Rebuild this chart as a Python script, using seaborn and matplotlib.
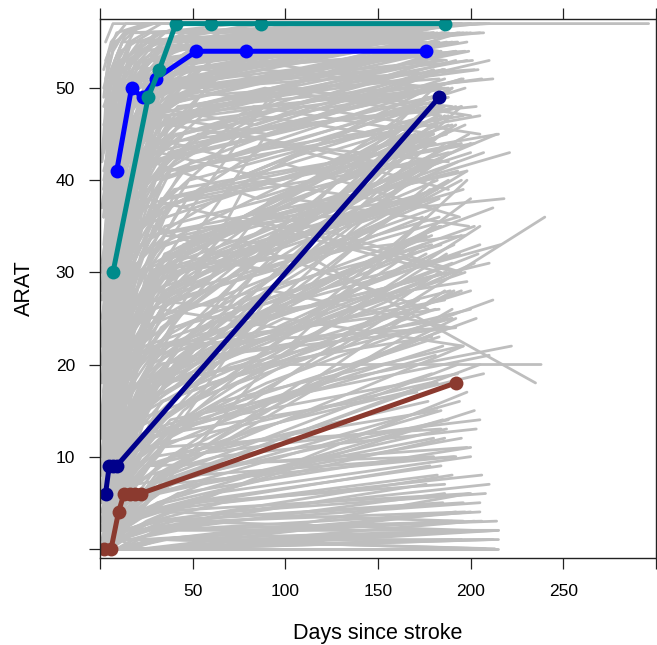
import matplotlib
matplotlib.use("Agg")
import matplotlib.pyplot as plt
import seaborn as sns
import pandas as pd

# ---- background (grey) patient trajectories: days since stroke / ARAT ----
grey_days = [
    [2,6,12,25,55,180],[3,8,15,29,88,183],[1,5,10,22,60,176],[4,9,14,31,92,190],
    [2,7,13,27,85,178],[3,6,11,24,53,172],[5,10,18,35,95,195],[2,4,9,20,50,181],
    [3,8,16,33,80,187],[1,7,12,26,58,174],[4,11,19,38,100,198],[2,5,10,21,47,168],
    [3,9,15,28,63,184],[6,12,20,36,90,200],[2,6,14,30,70,179],[1,4,8,18,45,170],
    [3,10,17,32,82,186],[5,9,16,30,75,192],[2,7,13,25,57,175],[4,8,15,27,65,181],
    [3,6,12,23,52,177],[1,5,11,24,61,185],[2,9,18,34,96,194],[4,10,20,40,105,205],
    [3,7,14,28,72,183],[2,5,9,19,48,171],[6,13,22,42,110,210],[1,6,12,27,64,182],
    [3,8,14,29,70,296],[2,4,10,22,55,180],[5,11,18,33,85,188],[4,9,17,31,77,185],
    [2,6,13,28,180],[3,8,15,32,186],[1,5,10,24,175],[4,10,18,36,190],
    [2,7,14,29,182],[3,9,16,30,195],[5,12,20,38,200],[2,5,11,25,172],
    [3,7,13,27,184],[1,6,12,26,178],[4,8,16,33,192],[2,9,17,35,188],
    [3,6,12,25,176],[5,10,19,37,205],[2,7,15,30,181],[1,4,9,21,170],
    [3,11,20,40,212],[4,8,14,28,186],[2,6,13,27,179],[3,9,17,34,193],
    [1,5,11,23,174],[6,12,21,39,207],[2,8,16,32,185],[3,7,14,29,182],
    [4,10,18,35,197],[2,5,10,22,177],[3,8,15,31,190],[5,11,19,36,202],
    [1,6,13,27,180],[4,9,17,33,188],[2,7,14,28,183],[3,10,19,37,199],
    [2,6,12,26,176],[4,8,15,30,187],[3,11,21,40,215],[1,5,10,23,173],
    [2,6,13,28,185],[3,9,17,34,195],[1,5,11,24,178],[4,10,18,36,200],
    [2,7,14,29,182],[3,8,15,31,190],[5,12,20,38,210],[2,5,10,22,175],
    [3,7,13,26,180],[1,6,12,27,186],[4,9,17,33,193],[2,8,16,32,188],
    [3,10,19,100,238],[2,6,14,110,235],[4,11,20,130,240],[3,9,18,120,222],
    [1,5,11,25,177],[5,10,18,35,197],[2,7,15,30,184],[3,6,12,25,179],
    [4,8,16,34,192],[2,9,17,33,189],[1,4,9,20,171],[3,8,14,29,183],
    [2,10,20,40,205],
    [2,6,13,28,190],[3,9,17,34,205],[1,5,11,24,212],[4,10,18,36,215],
    [2,7,14,29,198],[3,8,15,31,185],[5,12,20,38,208],[2,5,10,22,195],
    [3,7,13,26,200],[1,6,12,27,188],[4,9,17,33,213],[2,8,16,32,196],
    [3,10,19,37,210],[2,6,12,26,182],[4,8,15,30,215],[3,11,21,40,201],
    [1,5,10,23,192],[2,7,13,27,207],[3,9,18,35,186],[5,11,19,36,214],
    # more early-recoverers
    [3,10,24,178],[2,8,20,182],[4,12,30,186],[1,6,16,174],[5,14,35,190],
    [2,9,22,180],[3,11,28,184],[6,15,38,195],[2,7,18,176],[4,13,32,188],
    [1,5,14,172],[3,9,25,181],[5,16,40,198],[2,8,21,179],[4,10,27,185],
    [3,12,33,189],[1,7,19,177],[6,14,36,193],[2,6,17,175],[4,11,29,183],
    [3,8,23,180],[5,13,34,191],[2,10,26,182],[1,4,12,170],[3,9,24,186],
    [4,15,37,196],[2,7,20,178],[5,12,31,187],[3,11,27,184],[1,6,15,173],
    [6,16,41,200],[2,9,23,181],[4,13,30,189],[3,8,21,179],[2,5,13,171],
    [5,14,33,192],[1,8,22,180],[4,10,26,185],[3,12,35,190],[2,7,19,176],
    # long diagonals
    [3,12,35,184],[2,9,28,180],[5,15,40,195],[1,7,22,176],[4,14,38,190],
    [2,10,30,182],[6,18,45,200],[3,11,33,186],[1,6,20,174],[4,13,36,192],
    [2,8,26,179],[5,16,42,198],[3,10,31,183],[1,7,24,177],[4,12,34,189],
    [2,9,29,181],[6,17,44,205],[3,11,32,185],[2,8,25,178],[5,14,39,194],
    [1,6,21,175],[4,13,37,191],[3,10,30,184],[2,9,27,180],[5,15,41,197],
    [1,7,23,176],[4,12,35,188],[3,11,33,186],[2,8,28,182],[6,16,43,202],
    [3,9,29,183],[1,5,18,172],[4,14,38,193],[2,10,31,185],[5,13,36,190],
    # low recoverers
    [3,12,35,186],[2,9,28,182],[5,15,40,196],[1,7,22,178],[4,14,38,192],
    [2,10,30,184],[6,18,45,205],[3,11,33,188],[1,6,20,176],[4,13,36,194],
    [2,8,26,181],[5,16,42,200],[3,10,31,185],[1,7,24,179],[4,12,34,190],
    [2,9,29,183],[3,11,32,187],[5,14,39,198],[2,8,25,180],[4,13,37,193],
    # near floor
    [3,12,35,195],[2,9,28,205],[5,15,40,212],[1,7,22,188],[4,14,38,210],
    [2,10,30,200],[6,18,45,215],[3,11,33,196],[1,6,20,190],[4,13,36,208],
    [2,8,26,202],[5,16,42,214],[3,10,31,193],[1,7,24,206],[4,12,34,199],
    # late ends
    [3,15,60,214],[2,12,50,221],[5,20,70,218],[4,18,90,216],
    # with a 3-month visit
    [4,14,30,90,185],[3,12,28,85,180],[2,10,25,95,190],[5,16,35,100,195],
    [3,11,27,88,182],[2,9,22,80,178],[4,13,33,92,188],[6,18,40,105,200],
    [3,10,26,86,181],[2,8,21,78,176],[4,15,36,98,192],[5,14,32,90,187],
    [3,12,29,87,183],[1,7,20,75,174],[4,13,31,93,189],[2,11,27,84,180],
    [6,17,39,102,198],[3,10,25,88,184],[2,9,23,81,179],[5,15,34,96,194],
    [4,12,30,91,186],[3,11,26,85,181],[2,8,20,79,177],[5,16,37,101,197],
    [3,13,31,92,188],[1,6,18,73,172],[4,14,33,95,191],[2,10,24,83,180],
    [6,18,41,108,203],[3,11,28,89,184],[2,9,22,80,178],[4,15,35,97,193],
    [5,13,30,91,187],[3,12,27,86,182],[1,7,19,76,175],[4,14,32,94,190],
    [2,10,25,84,180],[6,17,38,103,199],[3,11,26,87,183],[2,8,21,79,177],
    [5,15,36,99,196],[4,12,29,90,186],[3,13,30,92,188],[1,6,17,72,171],
    [4,14,34,96,192],[2,10,24,82,179],[6,18,42,110,205],[3,11,27,88,184],
    [2,9,23,81,178],[5,16,35,98,195],
    # dense early follow-up
    [1,7,16,35,182],[2,8,18,38,186],[3,10,20,40,190],[1,6,15,32,178],
    [2,9,19,36,184],[4,11,22,42,195],[1,7,17,34,180],[3,12,24,44,198],
    [2,8,16,33,181],[1,6,14,30,176],[3,10,21,39,188],[2,9,18,37,185],
    [4,12,23,43,196],[1,7,15,31,179],[2,8,17,35,183],[3,11,22,41,192],
    [1,6,16,33,177],[2,10,20,38,187],[4,12,25,45,200],[3,9,19,36,184],
    # upper band, later end
    [2,9,20,45,192],[3,11,24,50,198],[1,8,18,42,186],[4,13,27,55,205],
    [2,10,22,48,195],[3,12,26,52,200],[1,7,17,40,183],[5,14,30,60,210],
    [2,9,21,46,190],[3,10,23,49,196],[4,12,25,51,202],[1,8,19,43,187],
    [2,11,24,50,199],[3,13,28,56,207],[5,15,31,58,212],[2,8,18,41,184],
    [4,11,23,47,193],[1,9,20,44,188],[3,12,25,52,201],[2,10,22,47,194],
    [4,14,29,57,208],[1,7,16,39,181],[3,11,24,49,197],[5,13,27,54,204],
    [2,9,21,45,191],[3,10,22,47,195],[1,8,18,42,185],[4,12,26,53,203],
    [2,11,23,48,196],[3,13,28,55,206],
    # low band, later end
    [3,10,25,60,200],[2,8,20,55,195],[4,12,30,70,210],[1,7,18,50,188],
    [3,11,27,65,205],[2,9,22,58,198],[5,14,33,75,214],[1,6,16,45,184],
    [4,13,29,68,208],[2,10,24,62,202],[3,8,19,52,191],[5,15,35,80,215],
    [1,9,21,57,197],[4,12,28,66,206],[2,7,17,48,186],[3,11,26,63,203],
    # middle band
    [2,10,25,70,200],[3,12,30,80,205],[1,8,20,60,190],[4,14,35,85,210],
    [2,9,22,65,195],[3,11,28,75,202],[5,16,38,90,212],[1,7,18,55,186],
    [4,13,32,82,207],[2,10,24,68,198],[3,12,29,78,204],[1,8,21,62,192],
]
grey_arat = [
    [15,30,42,51,55,57],[40,48,53,55,57,57],[5,18,33,46,53,56],[25,38,47,52,56,57],
    [50,54,56,57,57,57],[10,22,36,48,54,57],[33,44,50,54,57,57],[0,9,27,43,52,55],
    [45,51,55,57,57,57],[22,35,44,50,55,57],[12,28,40,49,54,56],[36,46,52,55,57,57],
    [3,14,30,44,51,54],[28,40,47,52,55,57],[52,55,57,57,57,57],[8,20,34,45,53,56],
    [18,31,42,49,54,56],[42,49,53,56,57,57],[2,12,28,41,50,55],[30,42,49,53,56,57],
    [47,52,55,57,57,57],[13,26,39,48,53,57],[38,47,52,55,56,57],[20,33,43,50,55,57],
    [55,57,57,57,57,57],[26,37,45,51,55,56],[31,41,48,53,56,57],[6,19,35,47,52,54],
    [48,53,56,57,57,57],[17,29,41,49,54,56],[37,46,51,54,56,57],[10,25,38,47,53,56],
    [5,12,22,30,45],[10,18,26,33,48],[0,6,15,24,42],[15,22,30,37,50],
    [3,9,18,27,40],[20,28,35,40,51],[8,14,21,28,44],[12,20,28,34,38],
    [1,5,12,20,35],[25,31,37,42,49],[6,13,20,26,46],[18,24,30,35,43],
    [0,2,8,16,32],[22,30,36,41,47],[9,16,23,29,39],[14,21,29,35,45],
    [4,10,17,24,37],[27,34,39,43,50],[7,11,18,25,33],[16,23,29,33,41],
    [2,8,16,24,36],[11,19,26,31,43],[30,36,40,44,48],[5,14,24,31,47],
    [13,18,24,30,34],[20,27,33,37,42],[0,4,11,19,31],[24,29,34,38,44],
    [8,15,22,28,38],[35,40,44,47,50],[12,17,22,27,36],[3,10,19,27,45],
    [17,24,30,34,40],[1,7,14,22,30],[26,31,35,39,45],[10,17,25,32,43],
    [2,4,8,12,22],[5,8,12,16,28],[0,3,7,11,18],[8,11,14,18,26],
    [1,3,6,10,15],[10,14,17,20,25],[3,6,10,14,21],[6,9,13,17,29],
    [0,1,3,6,12],[12,15,18,21,27],[2,5,9,13,19],[15,18,20,22,24],
    [4,7,11,20,20],[20,26,30,32,18],[6,10,14,22,36],[5,9,12,18,22],
    [1,2,5,9,16],[9,12,15,19,30],[3,5,8,11,13],[7,10,14,18,23],
    [0,2,4,7,10],[11,14,17,20,28],[4,6,9,12,17],[14,16,19,22,26],
    [1,4,7,10,14],
    [0,0,0,1,3],[0,1,1,2,4],[0,0,0,0,0],[0,0,1,1,1],
    [0,0,0,0,2],[1,1,2,3,5],[0,0,0,0,0],[0,0,1,0,1],
    [2,3,3,4,6],[0,0,0,0,0],[0,0,0,1,0],[3,3,4,4,3],
    [0,0,0,0,1],[0,1,2,4,8],[0,0,0,0,0],[1,2,2,3,2],
    [0,0,0,0,4],[0,0,0,0,0],[0,0,1,2,6],[0,0,0,0,0],
    # more early-recoverers
    [30,45,53,57],[20,38,50,56],[35,48,54,57],[12,30,45,55],[40,50,55,57],
    [25,42,52,57],[8,25,44,54],[38,47,53,57],[44,52,56,57],[16,34,48,56],
    [28,41,50,55],[53,56,57,57],[22,36,47,53],[33,46,54,57],[5,21,42,52],
    [46,53,56,57],[18,36,49,56],[27,40,50,56],[39,49,55,57],[11,29,46,55],
    [51,55,57,57],[24,39,50,57],[14,32,47,54],[42,51,55,57],[31,44,52,56],
    [9,26,43,51],[36,48,54,57],[19,35,48,55],[48,54,56,57],[23,39,50,56],
    [34,45,52,56],[7,24,43,53],[43,51,55,57],[26,41,51,57],[49,54,56,57],
    [15,31,46,54],[37,47,53,56],[21,38,50,57],[45,52,56,57],[10,28,45,55],
    # long diagonals
    [4,10,18,45],[2,6,14,40],[8,13,20,48],[0,4,10,36],[12,18,25,50],
    [6,12,19,42],[3,8,15,38],[10,16,24,47],[1,5,12,33],[15,21,28,44],
    [5,11,17,46],[9,14,22,41],[0,3,9,30],[14,19,27,49],[7,13,21,43],
    [11,17,26,37],[2,7,14,35],[18,24,31,48],[4,9,16,39],[13,18,24,32],
    [8,14,22,45],[0,5,12,28],[16,22,29,42],[3,10,20,50],[20,26,32,46],
    [6,11,18,34],[10,15,23,40],[1,6,15,44],[17,23,30,39],[5,10,17,31],
    [12,20,30,47],[2,7,13,27],[14,20,27,36],[7,12,20,49],[0,2,8,26],
    # low recoverers
    [0,2,5,12],[1,3,7,18],[2,5,9,22],[0,1,4,9],[3,6,10,25],
    [0,2,6,15],[1,4,8,20],[4,7,11,24],[0,0,2,7],[2,4,7,16],
    [5,8,12,21],[0,3,6,11],[1,2,5,14],[3,5,9,19],[0,1,3,8],
    [6,9,13,23],[2,3,6,13],[0,2,4,17],[1,4,9,10],[3,5,8,20],
    # near floor
    [0,0,0,0],[0,0,1,2],[0,0,0,1],[1,1,1,3],[0,0,0,0],
    [0,1,1,4],[0,0,0,2],[2,2,3,5],[0,0,0,1],[0,0,1,0],
    [0,0,0,3],[1,1,2,2],[0,0,0,0],[0,1,2,3],[0,0,0,6],
    # late ends
    [10,20,32,45],[12,22,33,43],[15,26,35,38],[5,15,26,33],
    # with a 3-month visit
    [10,20,28,45,52],[35,40,42,38,44],[5,15,30,50,48],[20,25,32,30,40],
    [40,46,50,52,50],[0,5,18,40,50],[15,30,40,44,42],[25,35,42,50,47],
    [2,8,12,25,35],[30,38,45,42,48],[8,12,20,35,30],[45,50,52,55,53],
    [12,25,35,30,38],[20,30,35,45,41],[3,6,10,28,24],[38,44,48,46,52],
    [5,10,15,22,40],[28,34,38,35,30],[48,52,55,54,57],[18,28,37,42,36],
    [1,3,8,15,28],[22,32,40,47,44],[10,18,25,33,26],[33,40,46,44,50],
    [6,14,22,38,46],[42,48,51,49,54],[14,20,26,24,33],[26,35,41,48,45],
    [2,5,9,18,25],[36,42,47,50,47],[16,26,33,40,37],[24,30,34,33,42],
    [0,2,6,20,32],[44,49,53,51,55],[8,16,24,36,31],[30,37,43,40,46],
    [4,9,15,30,42],[19,26,31,38,35],[50,53,55,57,54],[13,22,30,35,45],
    [9,14,19,25,22],[37,43,47,45,51],[21,29,36,44,39],[3,10,20,32,38],
    [27,33,37,42,48],[11,19,27,26,34],[32,38,43,48,45],[7,11,17,27,33],
    [41,47,51,53,50],[15,22,28,36,30],
    # dense early follow-up
    [0,8,20,32,46],[10,22,33,41,52],[25,36,44,49,55],[5,15,24,30,38],
    [18,30,40,46,50],[2,6,14,22,34],[30,42,49,53,56],[12,20,28,34,41],
    [1,4,9,16,26],[20,34,45,51,57],[8,18,29,38,47],[36,44,50,54,57],
    [4,12,22,30,39],[15,26,36,42,49],[0,3,10,20,35],[28,38,45,50,54],
    [10,20,30,38,44],[40,48,52,55,57],[6,14,24,33,43],[22,33,41,47,53],
    # upper band, later end
    [15,28,38,45,53],[32,40,46,50,55],[22,33,42,48,52],[38,45,50,53,56],
    [8,20,32,40,48],[42,48,52,54,57],[27,37,44,49,51],[18,30,40,46,53],
    [46,51,54,56,57],[12,24,35,42,47],[35,42,47,50,52],[5,16,28,37,45],
    [24,35,43,48,54],[44,50,53,55,56],[29,38,44,48,51],[17,29,39,45,50],
    [40,47,51,53,55],[10,22,33,41,49],[33,41,46,50,53],[21,32,41,47,56],
    [47,52,55,56,57],[13,25,36,43,50],[37,44,49,52,54],[26,36,43,48,52],
    [43,49,53,55,57],[7,18,30,38,44],[31,40,46,50,53],[19,31,40,45,48],
    [39,46,51,54,56],[23,34,42,47,51],
    # low band, later end
    [0,1,3,6,10],[1,2,4,7,12],[0,0,2,4,7],[2,3,5,8,14],
    [0,1,2,3,5],[3,4,6,9,11],[0,0,1,2,3],[1,2,3,5,9],
    [2,2,3,4,6],[0,2,4,6,15],[4,5,7,8,10],[0,0,0,1,2],
    [1,1,2,3,4],[0,1,3,5,8],[2,3,3,5,7],[5,6,8,10,13],
    # middle band
    [5,10,15,20,28],[8,12,18,24,33],[3,7,12,18,25],[10,15,20,25,31],
    [2,5,10,16,22],[12,16,21,26,35],[6,9,13,18,27],[4,9,14,20,30],
    [1,4,8,13,19],[14,18,22,25,29],[7,11,16,22,32],[9,13,17,21,24],
]

# ---- highlighted patients ----
hl_names = ["brown", "navy", "blue", "teal"]
hl_colors = ["#8B3A2F", "#00008B", "#0000FF", "#008B8B"]
brown_days = [2, 6, 10, 13, 16, 19, 22, 192]
brown_arat = [0, 0, 4, 6, 6, 6, 6, 18]
navy_days = [3, 5, 7, 9, 183]
navy_arat = [6, 9, 9, 9, 49]
blue_days = [9, 17, 23, 30, 52, 79, 176]
blue_arat = [41, 50, 49, 51, 54, 54, 54]
teal_days = [7, 26, 32, 41, 60, 87, 186]
teal_arat = [30, 49, 52, 57, 57, 57, 57]

x_ticks = [0, 50, 100, 150, 200, 250, 300]
x_labels = ["", "50", "100", "150", "200", "250", ""]
y_ticks = [0, 10, 20, 30, 40, 50]
y_labels = ["", "10", "20", "30", "40", "50"]

rows = []
for pid, (d, a) in enumerate(zip(grey_days, grey_arat)):
    for di, ai in zip(d, a):
        rows.append({"pid": pid, "day": di, "arat": ai})
grey_df = pd.DataFrame(rows)

hl_rows = []
for name, d, a in zip(hl_names,
                      [brown_days, navy_days, blue_days, teal_days],
                      [brown_arat, navy_arat, blue_arat, teal_arat]):
    for di, ai in zip(d, a):
        hl_rows.append({"pid": name, "day": di, "arat": ai})
hl_df = pd.DataFrame(hl_rows)

sns.set_theme(style="white")
plt.rcParams["font.family"] = ["Liberation Sans", "DejaVu Sans"]
plt.rcParams["text.color"] = "black"
plt.rcParams["axes.labelcolor"] = "black"

fig = plt.figure(figsize=(6.57, 6.45), dpi=100)
ax = fig.add_axes([100/657, 1 - 558/645, 556/657, (558 - 19)/645])

sns.lineplot(data=grey_df, x="day", y="arat", units="pid", estimator=None,
             sort=False, color="#BEBEBE", lw=2.0, ax=ax, legend=False)

for name, col in zip(hl_names, hl_colors):
    sub = hl_df[hl_df["pid"] == name]
    sns.lineplot(data=sub, x="day", y="arat", sort=False, estimator=None,
                 color=col, lw=3.6, marker="o", markersize=10,
                 markeredgewidth=0, ax=ax, legend=False)

ax.set_xlim(0, 299)
ax.set_ylim(-1, 57.5)
ax.set_xticks(x_ticks)
ax.set_xticklabels(x_labels)
ax.set_yticks(y_ticks)
ax.set_yticklabels(y_labels)
ax.tick_params(axis="both", direction="out", length=8, width=0.9,
               color="#222222", labelsize=12.5, labelcolor="black")
ax.tick_params(axis="x", top=True, bottom=True, labeltop=False, pad=11)
ax.tick_params(axis="y", left=True, right=False, pad=10)
for s in ax.spines.values():
    s.set_visible(True)
    s.set_color("#222222")
    s.set_linewidth(1.0)
ax.set_xlabel("Days since stroke", fontsize=15.5, labelpad=17, color="black")
ax.set_ylabel("ARAT", fontsize=15.5, labelpad=15, color="black")
ax.grid(False)

fig.savefig("out.png", dpi=100)
